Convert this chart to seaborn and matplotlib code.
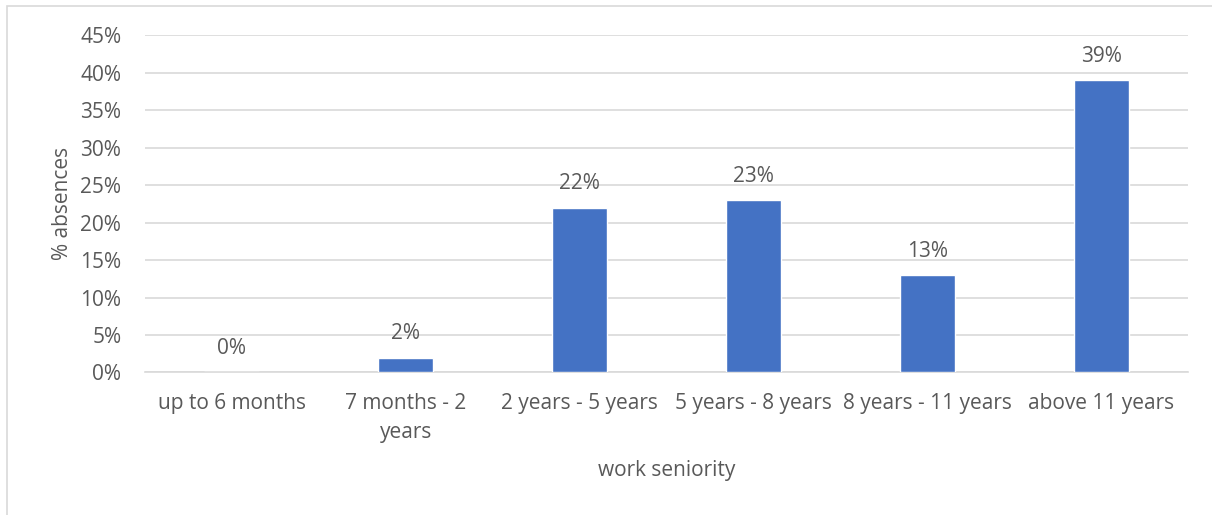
import matplotlib
matplotlib.use("Agg")
import matplotlib.pyplot as plt
import matplotlib.patches as mpatches
import seaborn as sns
import pandas as pd

categories = ["up to 6 months", "7 months - 2\nyears", "2 years - 5 years",
              "5 years - 8 years", "8 years - 11 years", "above 11 years"]
absences = [0, 2, 22, 23, 13, 39]
y_ticks = [0, 5, 10, 15, 20, 25, 30, 35, 40, 45]

df = pd.DataFrame({"seniority": categories, "absences": absences})

sns.set_theme(style="white")
plt.rcParams["font.family"] = ["Open Sans", "DejaVu Sans"]

text_color = "#595959"
grid_color = "#D9D9D9"
bar_color = "#4472C4"
fs = 15

fig = plt.figure(figsize=(12.12, 5.15), dpi=100)
ax = fig.add_axes([0.1196, 0.2767, 0.8606, 0.6553])

sns.barplot(data=df, x="seniority", y="absences", color=bar_color,
            saturation=1, width=0.316, ax=ax, zorder=3)

ax.set_ylim(0, 45)
ax.set_xlim(-0.5, len(categories) - 0.5)
ax.set_yticks(y_ticks)
ax.set_yticklabels([f"{v}%" for v in y_ticks])
ax.yaxis.grid(True, color=grid_color, linewidth=1.2, zorder=0)
ax.set_axisbelow(True)
for side in ["top", "right", "left"]:
    ax.spines[side].set_visible(False)
ax.spines["bottom"].set_color(grid_color)
ax.spines["bottom"].set_linewidth(1.2)

ax.tick_params(axis="both", length=0, labelsize=fs, colors=text_color)
ax.tick_params(axis="y", pad=17)
ax.tick_params(axis="x", pad=15)
for lbl in ax.get_xticklabels():
    lbl.set_linespacing(1.5)

for i, v in enumerate(absences):
    ax.annotate(f"{v}%", xy=(i, v), xytext=(0, 17), textcoords="offset points",
                ha="center", va="center", fontsize=fs, color=text_color)

ax.set_ylabel("% absences", fontsize=fs, color=text_color, labelpad=5)
ax.set_xlabel("work seniority", fontsize=fs, color=text_color, labelpad=12)

# chart frame
frame = mpatches.Rectangle((7 / 1212, -0.1), 1.2, 1 - 6 / 515 + 0.1,
                           transform=fig.transFigure, fill=False,
                           edgecolor=grid_color, linewidth=1.2)
fig.patches.append(frame)

fig.savefig("out.png", dpi=100, facecolor="white")
